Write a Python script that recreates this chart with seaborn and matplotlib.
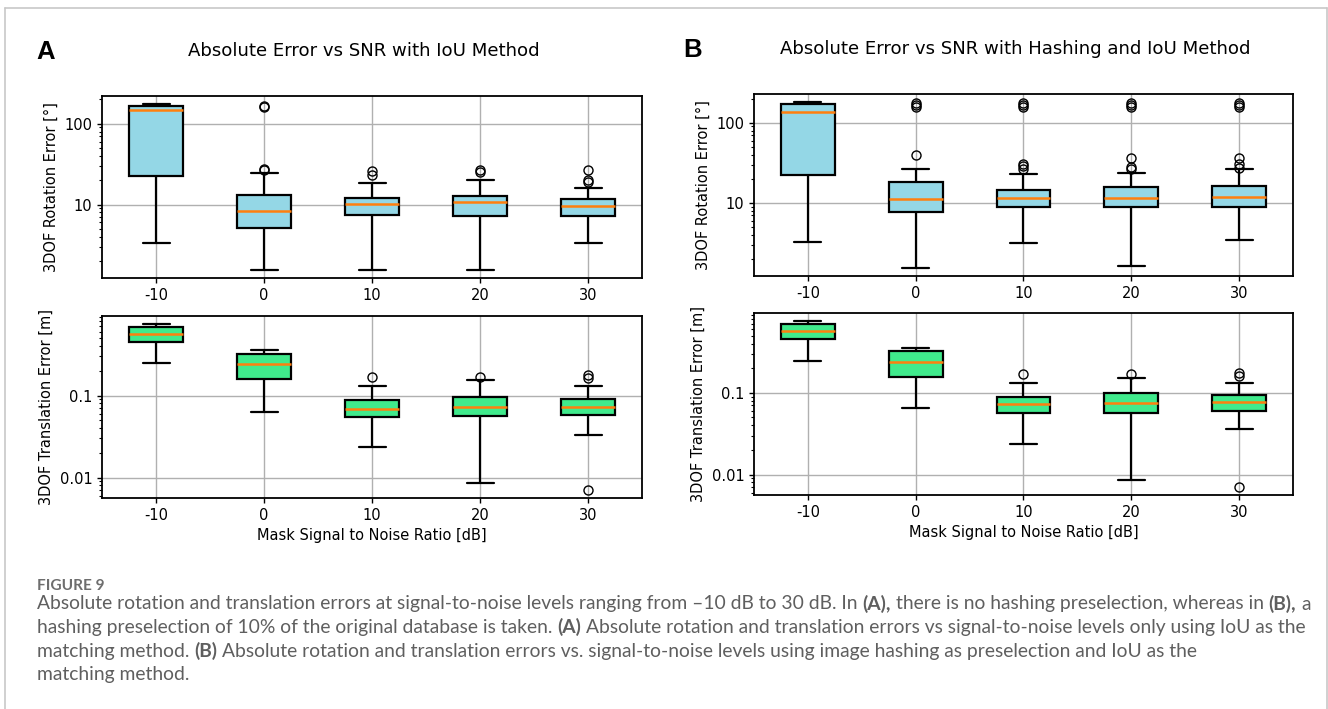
import numpy as np
import pandas as pd
import matplotlib
matplotlib.use("Agg")
import matplotlib.pyplot as plt
from matplotlib.ticker import FuncFormatter, NullFormatter
from matplotlib.lines import Line2D
import seaborn as sns

# ---------------- data ----------------
snr_labels = ["-10", "0", "10", "20", "30"]

# Panel A: IoU only - rotation error [deg]
rotA_lo = [3.3, 1.56, 1.56, 1.56, 3.3]
rotA_q1 = [22.4, 5.15, 7.5, 7.3, 7.3]
rotA_med = [146, 8.3, 10.2, 10.8, 9.7]
rotA_q3 = [167, 13.2, 12.1, 12.9, 11.6]
rotA_hi = [174, 24.8, 18.5, 20.2, 15.8]
rotA_out = [[], [26.5, 27.5, 160, 168], [23.5, 26.0], [25.5, 26.8], [18.9, 20.3, 26.5]]

# Panel A: IoU only - translation error [m]
trA_lo = [0.25, 0.063, 0.0238, 0.0086, 0.0327]
trA_q1 = [0.45, 0.158, 0.0546, 0.0565, 0.058]
trA_med = [0.565, 0.24, 0.068, 0.0735, 0.0715]
trA_q3 = [0.69, 0.317, 0.0885, 0.096, 0.091]
trA_hi = [0.74, 0.355, 0.13, 0.153, 0.13]
trA_out = [[], [], [0.168], [0.168], [0.0071, 0.162, 0.177]]

# Panel B: hashing + IoU - rotation error [deg]
rotB_lo = [3.3, 1.56, 3.15, 1.63, 3.47]
rotB_q1 = [22.5, 7.65, 8.8, 8.9, 9.0]
rotB_med = [135.5, 11.1, 11.7, 11.7, 11.9]
rotB_q3 = [172, 18.2, 14.7, 15.7, 16.1]
rotB_hi = [180, 26.2, 23.0, 23.9, 26.2]
rotB_out = [[], [39.5, 155, 165, 175], [26.8, 28.5, 30.9, 155, 165, 175],
            [26.8, 28.0, 36.7, 155, 165, 175], [27.5, 30.9, 36.7, 155, 165, 175]]

# Panel B: hashing + IoU - translation error [m]
trB_lo = [0.248, 0.0646, 0.0236, 0.0085, 0.0362]
trB_q1 = [0.453, 0.156, 0.056, 0.056, 0.0604]
trB_med = [0.566, 0.238, 0.073, 0.0756, 0.0764]
trB_q3 = [0.69, 0.323, 0.0887, 0.0984, 0.0937]
trB_hi = [0.75, 0.356, 0.13, 0.152, 0.13]
trB_out = [[], [], [0.172], [0.172], [0.0071, 0.16, 0.175]]

titleA = "Absolute Error vs SNR with IoU Method"
titleB = "Absolute Error vs SNR with Hashing and IoU Method"
ylab_rot = "3DOF Rotation Error [°]"
ylab_tr = "3DOF Translation Error [m]"
xlab = "Mask Signal to Noise Ratio [dB]"

caption_head = "FIGURE 9"
caption_lines = [
    [("Absolute rotation and translation errors at signal-to-noise levels ranging from –10 dB to 30 dB. In", False),
     ("(A),", True), ("there is no hashing preselection, whereas in", False), ("(B),", True), ("a", False)],
    [("hashing preselection of 10% of the original database is taken.", False), ("(A)", True),
     ("Absolute rotation and translation errors vs signal-to-noise levels only using IoU as the", False)],
    [("matching method.", False), ("(B)", True),
     ("Absolute rotation and translation errors vs. signal-to-noise levels using image hashing as preselection and IoU as the", False)],
    [("matching method.", False)],
]


def summary_frame(lo, q1, med, q3, hi, out, reps=20):
    """Long table whose box-plot statistics equal the values read above."""
    rows = []
    for lab, a, b, c, d, e, o in zip(snr_labels, lo, q1, med, q3, hi, out):
        vals = [a] + [b] * reps + [c] * reps + [d] * reps + [e] + list(o)
        rows += [(lab, v) for v in vals]
    return pd.DataFrame(rows, columns=["snr", "err"])


# ---------------- style ----------------
sns.set_theme(style="ticks", rc={
    "axes.edgecolor": "black", "axes.linewidth": 1.3,
    "xtick.major.size": 3.5, "ytick.major.size": 3.5, "ytick.minor.size": 2.0,
    "xtick.major.width": 1.0, "ytick.major.width": 1.0, "ytick.minor.width": 0.8,
    "xtick.labelsize": 10.5, "ytick.labelsize": 10.5, "axes.labelsize": 10.5,
    "xtick.color": "black", "ytick.color": "black", "text.color": "black",
    "axes.labelcolor": "black",
})
plt.rcParams["font.family"] = ["DejaVu Sans"]

W, H = 1328, 709
fig = plt.figure(figsize=(W / 100, H / 100), dpi=100, facecolor="white")


def px_axes(l, r, t, b):
    return fig.add_axes([l / W, 1 - b / H, (r - l) / W, (b - t) / H])


BLUE = "#94d7e6"
GREEN = "#40ea8c"


def draw_box(ax, df, color, ylabel, xlabel):
    sns.boxplot(data=df, x="snr", y="err", order=snr_labels, ax=ax, width=0.5,
                color=color, saturation=1, linecolor="black", linewidth=1.6,
                fliersize=6.5,
                medianprops={"color": "#ff7f0e", "linewidth": 1.8},
                flierprops={"marker": "o", "markerfacecolor": "none",
                            "markeredgecolor": "black", "markeredgewidth": 1.0})
    ax.set_yscale("log")
    ax.yaxis.set_major_formatter(FuncFormatter(lambda v, p: f"{v:g}"))
    ax.yaxis.set_minor_formatter(NullFormatter())
    ax.set_xlim(-0.5, 4.5)
    ax.grid(True, which="major", color="#b0b0b0", linewidth=1.0)
    ax.set_axisbelow(True)
    ax.set_ylabel(ylabel)
    ax.set_xlabel(xlabel)


axA1 = px_axes(102, 642, 96, 278)
axA2 = px_axes(102, 642, 316, 498)
axB1 = px_axes(754, 1293, 94, 276)
axB2 = px_axes(754, 1293, 313, 495)

draw_box(axA1, summary_frame(rotA_lo, rotA_q1, rotA_med, rotA_q3, rotA_hi, rotA_out), BLUE, ylab_rot, "")
draw_box(axA2, summary_frame(trA_lo, trA_q1, trA_med, trA_q3, trA_hi, trA_out), GREEN, ylab_tr, xlab)
draw_box(axB1, summary_frame(rotB_lo, rotB_q1, rotB_med, rotB_q3, rotB_hi, rotB_out), BLUE, ylab_rot, "")
draw_box(axB2, summary_frame(trB_lo, trB_q1, trB_med, trB_q3, trB_hi, trB_out), GREEN, ylab_tr, xlab)

# titles and panel letters
fig.text(363.5 / W, 1 - 51.5 / H, titleA, ha="center", va="center", fontsize=13.1)
fig.text(1015.5 / W, 1 - 49.5 / H, titleB, ha="center", va="center", fontsize=13.1)
fig.text(36 / W, 1 - 52 / H, "A", ha="left", va="center", fontsize=18.5,
         fontweight="bold", family=["Liberation Sans", "DejaVu Sans"])
fig.text(683 / W, 1 - 50 / H, "B", ha="left", va="center", fontsize=18.5,
         fontweight="bold", family=["Liberation Sans", "DejaVu Sans"])

# outer frame (light grey border)
fc = "#c8c8c8"
x0, x1, yt = 4.5 / W, 1326.5 / W, 1 - 7.5 / H
for xs, ys in [([x0, x0], [0, yt]), ([x1, x1], [0, yt]), ([x0, x1], [yt, yt])]:
    fig.add_artist(Line2D(xs, ys, transform=fig.transFigure, color=fc, linewidth=1.2))

# caption
CAP_FONT = ["Lato", "DejaVu Sans"]
CAP_COLOR = "#5f5f5f"
NORMAL_W = "normal"
renderer = fig.canvas.get_renderer()


def text_width(s, size, bold):
    t = fig.text(0, 0, s, fontsize=size, family=CAP_FONT,
                 fontweight="bold" if bold else NORMAL_W)
    w = t.get_window_extent(renderer).width
    t.remove()
    return w


def line_width(segs, size):
    sp = text_width("x x", size, False) - text_width("xx", size, False)
    return sum(text_width(s, size, b) for s, b in segs) + sp * (len(segs) - 1)


cap_left = 37
target = 1312 - cap_left
size = 12.0
for _ in range(3):
    size = size * target / line_width(caption_lines[0], size)

fig.text(cap_left / W, 1 - 590 / H, caption_head, fontsize=size * 0.8, family=CAP_FONT,
         fontweight="bold", color="#6e6e6e", va="baseline", ha="left")

baselines = [609.5, 633, 656.5, 680]
space_w = text_width("x x", size, False) - text_width("xx", size, False)
for segs, base in zip(caption_lines, baselines):
    x = cap_left
    for s, b in segs:
        t = fig.text(x / W, 1 - base / H, s, fontsize=size, family=CAP_FONT,
                     fontweight="bold" if b else NORMAL_W, color=CAP_COLOR,
                     va="baseline", ha="left")
        x += t.get_window_extent(renderer).width + space_w

fig.savefig("out.png", dpi=100, facecolor="white")
